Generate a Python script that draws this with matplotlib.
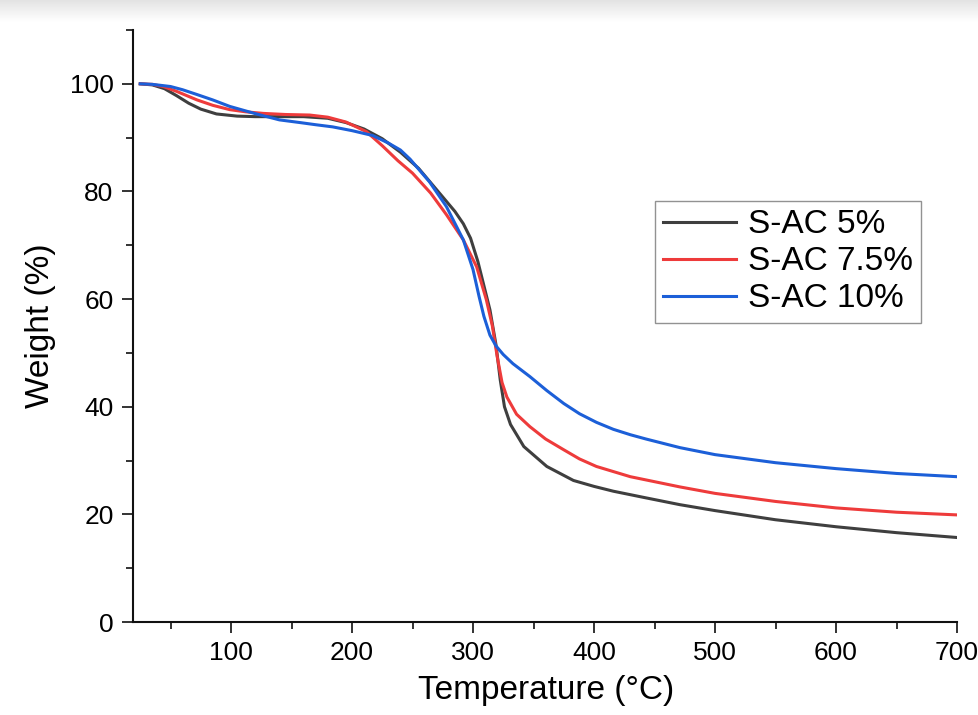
import numpy as np
import matplotlib
matplotlib.use("Agg")
import matplotlib.pyplot as plt

## data
t_5 = [25, 35, 45, 55, 65, 75, 88, 105, 120, 140, 160, 180, 195, 210, 225, 240, 255, 270,
       285, 292, 298, 304, 309, 314, 319, 322.5, 326, 331, 342, 361, 383, 400, 416, 440,
       471, 500, 550, 600, 650, 700]
w_5 = [100, 99.8, 99.1, 97.8, 96.4, 95.3, 94.4, 94.0, 93.9, 93.9, 93.9, 93.6, 92.8, 91.6,
       89.8, 87.3, 84.3, 80.3, 76.3, 74.0, 71.3, 67.0, 62.5, 58.0, 51.5, 45.0, 40.0, 36.7,
       32.6, 28.9, 26.3, 25.2, 24.3, 23.2, 21.8, 20.7, 19.0, 17.7, 16.6, 15.7]

t_75 = [25, 35, 44, 55, 72, 85, 99, 112, 127, 145, 165, 180, 195, 212, 225, 238, 250, 265,
        278, 292, 303, 311, 316, 320, 324, 328, 336, 347, 360, 375, 388, 402, 430, 471,
        500, 550, 600, 650, 700]
w_75 = [100, 99.9, 99.5, 98.6, 97.0, 96.0, 95.2, 94.8, 94.5, 94.3, 94.2, 93.8, 92.9, 91.1,
        88.5, 85.7, 83.4, 79.7, 75.7, 71.0, 66.0, 59.9, 55.0, 49.3, 44.5, 41.8, 38.6, 36.3,
        34.0, 32.0, 30.3, 28.9, 27.0, 25.1, 23.9, 22.4, 21.2, 20.4, 19.9]

t_10 = [25, 35, 50, 60, 72, 85, 99, 110, 121, 140, 157, 170, 184, 200, 217, 230, 240, 248,
        264, 278, 292, 300, 305, 309, 314, 319, 325, 333, 347, 361, 375, 388, 402, 416, 430,
        443, 471, 500, 550, 600, 650, 700]
w_10 = [100, 99.9, 99.5, 98.9, 98.0, 97.0, 95.8, 95.1, 94.4, 93.3, 92.8, 92.4, 92.0, 91.3,
        90.4, 89.0, 87.7, 86.0, 81.8, 77.2, 71.0, 65.5, 60.5, 56.8, 53.3, 51.3, 49.7, 48.0,
        45.6, 43.0, 40.6, 38.7, 37.1, 35.8, 34.8, 34.0, 32.4, 31.1, 29.6, 28.5, 27.6, 27.0]

labels = ["S-AC 5%", "S-AC 7.5%", "S-AC 10%"]
colors = ["#3f3f3f", "#ee3b3b", "#1c5fd8"]

plt.rcParams["font.family"] = ["Liberation Sans", "DejaVu Sans"]

fig = plt.figure(figsize=(9.79, 7.15), dpi=100)

## grey band at the top of the screenshot
band = fig.add_axes([0, 1 - 22 / 715, 1, 22 / 715])
grad = np.linspace(0.89, 1.0, 50).reshape(-1, 1)
band.imshow(grad, aspect="auto", cmap="gray", vmin=0, vmax=1, extent=[0, 1, 0, 1], origin="upper")
band.axis("off")

ax = fig.add_axes([133 / 979, 1 - 622 / 715, (957 - 133) / 979, (622 - 30) / 715])

for t, w, lab, c in zip([t_5, t_75, t_10], [w_5, w_75, w_10], labels, colors):
    ax.plot(t, w, color=c, lw=2.2, label=lab)

ax.set_xlim(19, 700)
ax.set_ylim(0, 110)
ax.set_xticks([100, 200, 300, 400, 500, 600, 700])
ax.set_xticks(np.arange(50, 701, 100), minor=True)
ax.set_yticks([0, 20, 40, 60, 80, 100])
ax.set_yticks([10, 30, 50, 70, 90, 110], minor=True)

for s in ["top", "right"]:
    ax.spines[s].set_visible(False)
for s in ["left", "bottom"]:
    ax.spines[s].set_linewidth(1.5)
    ax.spines[s].set_color("#111111")

ax.tick_params(which="major", direction="out", length=8, width=1.2, labelsize=19,
               color="#111111", pad=6)
ax.tick_params(which="minor", direction="out", length=5, width=1.2, color="#111111")

ax.set_xlabel("Temperature (°C)", fontsize=24)
ax.set_ylabel("Weight (%)", fontsize=24)
ax.xaxis.set_label_coords(0.501, -0.09)
ax.yaxis.set_label_coords(-0.094, 0.5)

leg = ax.legend(loc="upper left", bbox_to_anchor=(0.633, 0.711), fontsize=24,
                frameon=True, fancybox=False, handlelength=2.2, handletextpad=0.35,
                borderpad=0.25, labelspacing=0.18, borderaxespad=0)
leg.get_frame().set_edgecolor("#777777")
leg.get_frame().set_linewidth(1.0)

fig.savefig("out.png", dpi=100)
